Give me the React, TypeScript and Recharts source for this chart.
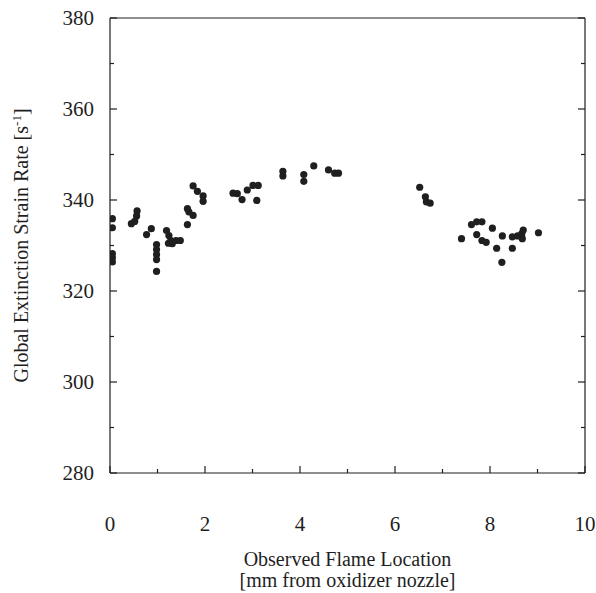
import React from 'react';
import { ScatterChart, Scatter, XAxis, YAxis } from 'recharts';

// flame location [mm] and global extinction strain rate [1/s]
const flameLoc = [
  0.05, 0.05, 0.05, 0.05, 0.05,
  0.45, 0.52, 0.56, 0.57,
  0.77, 0.87,
  0.98, 0.98, 0.98, 0.98, 0.98,
  1.19, 1.24, 1.28, 1.23, 1.31, 1.39, 1.48,
  1.63, 1.66, 1.75, 1.63, 1.75, 1.84, 1.96, 1.96,
  2.59, 2.68, 2.78, 2.89, 3.01, 3.12, 3.09,
  3.64, 3.64, 4.08, 4.08, 4.29, 4.6, 4.73, 4.81,
  6.52, 6.64, 6.66, 6.74,
  7.4, 7.61, 7.72, 7.83, 7.72, 7.83, 7.92, 8.05, 8.14, 8.26, 8.25,
  8.47, 8.47, 8.58, 8.67, 8.7, 8.68, 9.02,
];
const strainRate = [
  335.9, 333.9, 328.2, 327.3, 326.4,
  334.8, 335.3, 336.5, 337.6,
  332.4, 333.7,
  330.2, 329.1, 328.0, 326.9, 324.3,
  333.3, 332.2, 331.1, 330.5, 330.4, 331.1, 331.1,
  338.1, 337.4, 336.6, 334.6, 343.1, 341.9, 340.9, 339.7,
  341.5, 341.4, 340.1, 342.2, 343.2, 343.2, 339.9,
  346.3, 345.3, 345.6, 344.1, 347.5, 346.6, 345.9, 345.9,
  342.8, 340.7, 339.6, 339.3,
  331.5, 334.6, 335.2, 335.2, 332.4, 331.1, 330.7, 333.8, 329.4, 332.1, 326.3,
  329.4, 331.9, 332.1, 332.6, 333.4, 331.5, 332.8,
];

const xTicks = [0, 1, 2, 3, 4, 5, 6, 7, 8, 9, 10];
const yTicks = [280, 290, 300, 310, 320, 330, 340, 350, 360, 370, 380];
const xLabeled = [0, 2, 4, 6, 8, 10];
const yLabeled = [280, 300, 320, 340, 360, 380];

const data = flameLoc.map((x, i) => ({ x, y: strainRate[i] }));

const FONT = '"Liberation Serif", "Times New Roman", serif';
const INK = '#1f1f1f';
const MAJOR = 7;
const MINOR = 4;
const Y_GAP = 16;
const X_GAP = 43;

const LeftTick = (props: any) => {
  const { x, y, payload } = props;
  const v = payload.value;
  const edge = x + Y_GAP;
  const len = yLabeled.includes(v) ? MAJOR : MINOR;
  return (
    <g>
      <line x1={edge} x2={edge + len} y1={y} y2={y} stroke={INK} strokeWidth={1.2} />
      {yLabeled.includes(v) && (
        <text x={x} y={y} dy="0.35em" textAnchor="end" fontFamily={FONT} fontSize={21} fill={INK}>
          {v}
        </text>
      )}
    </g>
  );
};

const RightTick = (props: any) => {
  const { x, y, payload } = props;
  const len = yLabeled.includes(payload.value) ? MAJOR : MINOR;
  return <line x1={x} x2={x - len} y1={y} y2={y} stroke={INK} strokeWidth={1.2} />;
};

const BottomTick = (props: any) => {
  const { x, y, payload } = props;
  const v = payload.value;
  const edge = y - X_GAP;
  const len = xLabeled.includes(v) ? MAJOR : MINOR;
  return (
    <g>
      <line x1={x} x2={x} y1={edge} y2={edge - len} stroke={INK} strokeWidth={1.2} />
      {xLabeled.includes(v) && (
        <text x={x} y={y} dy="0.71em" textAnchor="middle" fontFamily={FONT} fontSize={21} fill={INK}>
          {v}
        </text>
      )}
    </g>
  );
};

const TopTick = (props: any) => {
  const { x, y, payload } = props;
  const len = xLabeled.includes(payload.value) ? MAJOR : MINOR;
  return <line x1={x} x2={x} y1={y} y2={y + len} stroke={INK} strokeWidth={1.2} />;
};

const XTitle = (props: any) => {
  const { viewBox } = props;
  const cx = viewBox.x + viewBox.width / 2;
  return (
    <text x={cx} y={viewBox.y + 93} textAnchor="middle" fontFamily={FONT} fontSize={20} fill={INK}>
      <tspan x={cx}>Observed Flame Location</tspan>
      <tspan x={cx} dy={21}>[mm from oxidizer nozzle]</tspan>
    </text>
  );
};

const YTitle = (props: any) => {
  const { viewBox } = props;
  const cy = viewBox.y + viewBox.height / 2;
  const cx = 21;
  return (
    <text
      x={cx}
      y={cy}
      transform={`rotate(-90, ${cx}, ${cy})`}
      textAnchor="middle"
      dy="0.35em"
      fontFamily={FONT}
      fontSize={20}
      fill={INK}
    >
      Global Extinction Strain Rate [s
      <tspan dy={-7} fontSize={13}>-1</tspan>
      <tspan dy={7}>]</tspan>
    </text>
  );
};

export default function App() {
  return (
    <div style={{ position: 'absolute', left: 0, top: 0, width: 596, height: 593, background: '#fff' }}>
      <ScatterChart width={596} height={593} margin={{ top: 0, right: 0, bottom: 0, left: 0 }}>
        <XAxis
          xAxisId="b"
          dataKey="x"
          type="number"
          domain={[0, 10]}
          ticks={xTicks}
          height={120}
          tickSize={0}
          tickMargin={X_GAP}
          tick={BottomTick}
          axisLine={{ stroke: INK, strokeWidth: 1.2 }}
          allowDataOverflow
          interval={0}
          label={<XTitle />}
        />
        <XAxis
          xAxisId="t"
          orientation="top"
          type="number"
          domain={[0, 10]}
          ticks={xTicks}
          height={18}
          tickSize={0}
          tickMargin={0}
          tick={TopTick}
          axisLine={{ stroke: INK, strokeWidth: 1.2 }}
          allowDataOverflow
          interval={0}
        />
        <YAxis
          yAxisId="l"
          dataKey="y"
          type="number"
          domain={[280, 380]}
          ticks={yTicks}
          width={110}
          tickSize={0}
          tickMargin={Y_GAP}
          tick={LeftTick}
          axisLine={{ stroke: INK, strokeWidth: 1.2 }}
          allowDataOverflow
          interval={0}
          label={<YTitle />}
        />
        <YAxis
          yAxisId="r"
          orientation="right"
          type="number"
          domain={[280, 380]}
          ticks={yTicks}
          width={11}
          tickSize={0}
          tickMargin={0}
          tick={RightTick}
          axisLine={{ stroke: INK, strokeWidth: 1.2 }}
          allowDataOverflow
          interval={0}
        />
        <Scatter
          data={data}
          xAxisId="b"
          yAxisId="l"
          isAnimationActive={false}
          shape={(p: any) => <circle cx={p.cx} cy={p.cy} r={3.6} fill={INK} />}
        />
      </ScatterChart>
    </div>
  );
}
